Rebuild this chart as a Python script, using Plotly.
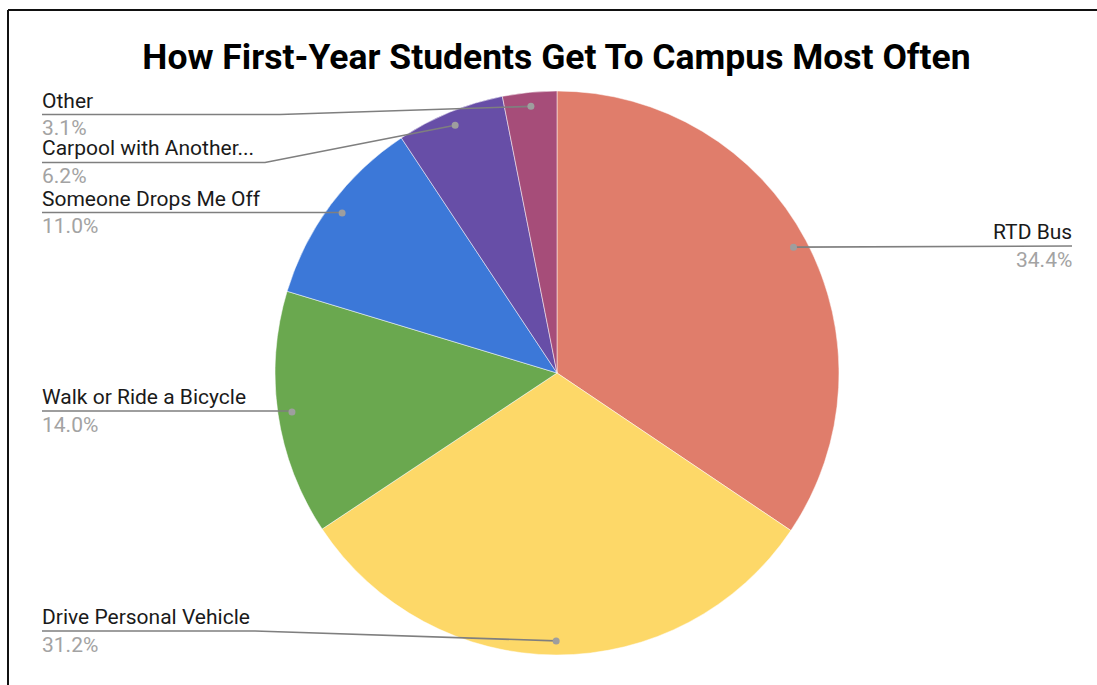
import math
import plotly.graph_objects as go

# ---- data ----
labels = ["RTD Bus", "Drive Personal Vehicle", "Walk or Ride a Bicycle",
          "Someone Drops Me Off", "Carpool with Another...", "Other"]
values = [34.4, 31.2, 14.0, 11.0, 6.2, 3.1]
colors = ["#E07D6B", "#FDD868", "#6AA84F", "#3C78D8", "#674EA7", "#A64D79"]
title = "How First-Year Students Get To Campus Most Often"

# ---- layout parameters (label placement, not data) ----
W, H = 1097, 685
CX, CY, R = 557, 373, 282
label_side = ["right", "left", "left", "left", "left", "left"]
label_line_y = [246, 631, 411, 212.5, 162.5, 114.5]
label_elbow_x = [None, 255, None, None, 265, 280]
LEFT_X, RIGHT_X = 42, 1072
DOT_FRAC = 0.95
LABEL_SIZE = 21

def px(x):
    return x / W

def py(y):
    return 1 - y / H

fig = go.Figure(go.Pie(
    labels=labels, values=values, sort=False, direction="clockwise",
    rotation=0, marker=dict(colors=colors, line=dict(color="white", width=0.5)),
    textinfo="none", hoverinfo="label+percent", showlegend=False,
    domain=dict(x=[px(CX - R), px(CX + R)], y=[py(CY + R), py(CY - R)]),
))

shapes = []
annotations = []
total = sum(values)
cum = 0.0
for i, v in enumerate(values):
    mid = (cum + v / 2) / total * 2 * math.pi
    cum += v
    dx = CX + DOT_FRAC * R * math.sin(mid)
    dy = CY - DOT_FRAC * R * math.cos(mid)
    ly = label_line_y[i]
    pct = f"{v / total * 100:.1f}%"
    if label_side[i] == "left":
        ex = label_elbow_x[i] if label_elbow_x[i] is not None else dx
        path = f"M {px(LEFT_X)} {py(ly)} L {px(ex)} {py(ly)} L {px(dx)} {py(dy)}"
        tx, anchor, shift = LEFT_X, "left", -2
    else:
        path = f"M {px(dx)} {py(dy)} L {px(RIGHT_X)} {py(ly)}"
        tx, anchor, shift = RIGHT_X, "right", 2
    shapes.append(dict(type="path", xref="paper", yref="paper", path=path,
                       line=dict(color="#7f7f7f", width=1.6)))
    shapes.append(dict(type="circle", xref="paper", yref="paper",
                       x0=px(dx - 3.5), x1=px(dx + 3.5), y0=py(dy + 3.5), y1=py(dy - 3.5),
                       fillcolor="#9e9e9e", line=dict(width=0)))
    annotations.append(dict(x=px(tx), y=py(ly - 14), xref="paper", yref="paper",
                            xshift=shift, text=labels[i], showarrow=False,
                            xanchor=anchor, yanchor="middle",
                            font=dict(family="Roboto", size=LABEL_SIZE, color="#1a1a1a")))
    annotations.append(dict(x=px(tx), y=py(ly + 13.5), xref="paper", yref="paper",
                            xshift=shift, text=pct, showarrow=False,
                            xanchor=anchor, yanchor="middle",
                            font=dict(family="Roboto", size=LABEL_SIZE, color="#a3a3a3")))

# outer frame (left and top edges visible)
shapes.append(dict(type="line", xref="paper", yref="paper",
                   x0=px(8), x1=px(W + 5), y0=py(10), y1=py(10),
                   line=dict(color="#111", width=2)))
shapes.append(dict(type="line", xref="paper", yref="paper",
                   x0=px(8), x1=px(8), y0=py(10), y1=py(H + 5),
                   line=dict(color="#111", width=2)))

fig.update_layout(
    width=W, height=H, margin=dict(l=0, r=0, t=0, b=0),
    paper_bgcolor="white", plot_bgcolor="white",
    title=dict(text=f"<b>{title}</b>", x=556.5 / W, xanchor="center",
               y=1 - 57 / H, yanchor="middle", yref="container",
               font=dict(family="Roboto", size=35.5, color="#000")),
    shapes=shapes, annotations=annotations,
)

fig.write_html("out.html")
